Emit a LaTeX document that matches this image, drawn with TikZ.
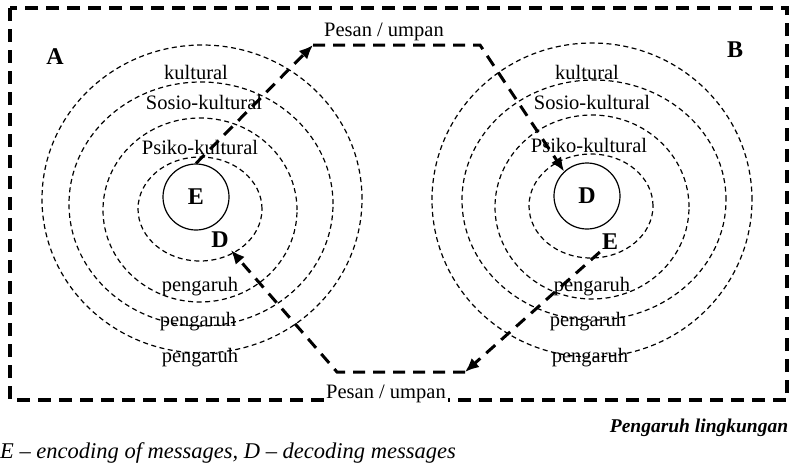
\documentclass[tikz,border=0pt]{standalone}
\usepackage{fontspec}
\setmainfont{Liberation Serif}
\usetikzlibrary{arrows.meta,positioning}

\begin{document}
\begin{tikzpicture}[
  x=1pt, y=-1pt,
  ring/.style={draw, dash pattern=on 5pt off 3.5pt, line width=1.2pt},
  boxline/.style={draw, line width=3.2pt, dash pattern=on 13pt off 8pt},
  msg/.style={-{Latex[length=14pt,width=12pt]}, line width=3pt, dash pattern=on 12pt off 8pt},
  lbl/.style={font=\fontsize{20.5}{24}\selectfont, inner sep=1pt},
  letter/.style={font=\fontsize{24}{26}\selectfont\bfseries, inner sep=2pt},
  core/.style={circle, draw, line width=1.2pt, minimum size=66pt, inner sep=0pt, font=\fontsize{24}{26}\selectfont\bfseries}
]
  \useasboundingbox (0,0) rectangle (792,464);
  \draw[boxline] (10,8) rectangle (787,400);

  % rings around A
  \draw[ring] (200,209) ellipse [x radius=62pt, y radius=52pt];
  \draw[ring] (200,210) ellipse [x radius=97pt, y radius=92pt];
  \draw[ring] (201,204) ellipse [x radius=132pt, y radius=122pt];
  \draw[ring] (202,199) ellipse [x radius=160pt, y radius=154pt];

  % rings around B
  \draw[ring] (591,206) ellipse [x radius=62pt, y radius=52pt];
  \draw[ring] (592,207) ellipse [x radius=97pt, y radius=92pt];
  \draw[ring] (594,200) ellipse [x radius=132pt, y radius=120pt];
  \draw[ring] (592,200) ellipse [x radius=160pt, y radius=157pt];

  \node[letter] (labA) at (55,57) {A};
  \node[letter] (labB) at (735,50) {B};

  \node[core] (encA) at (196,197) {E};
  \node[core] (decB) at (587,196) {D};
  \node[letter] (decA) at (220,240) {D};
  \node[letter] (encB) at (610,242) {E};

  \node[lbl] (kulA) at (196,72) {kultural};
  \node[lbl] (sosA) at (204,102) {Sosio-kultural};
  \node[lbl] (psiA) at (200,147) {Psiko-kultural};
  \node[lbl] (pgA1) at (200,287) {pengaruh};
  \node[lbl] (pgA2) at (198,322) {pengaruh};
  \node[lbl] (pgA3) at (200,358) {pengaruh};

  \node[lbl] (kulB) at (587,72) {kultural};
  \node[lbl] (sosB) at (592,102) {Sosio-kultural};
  \node[lbl] (psiB) at (589,145) {Psiko-kultural};
  \node[lbl] (pgB1) at (592,287) {pengaruh};
  \node[lbl] (pgB2) at (588,322) {pengaruh};
  \node[lbl] (pgB3) at (590,358) {pengaruh};

  \coordinate (up1) at (313,45);
  \coordinate (up2) at (480,45);
  \coordinate (dn1) at (465,372);
  \coordinate (dn2) at (337,372);

  \draw[msg] (encA.north) -- (up1);
  \draw[msg] (up1) -- (up2) -- (decB.133);
  \draw[msg] (encB.south west) -- (dn1);
  \draw[msg] (dn1) -- (dn2) -- (decA.south east);

  \node[lbl] (msgUp) at (384,32) {Pesan / umpan};
  \node[lbl, fill=white, inner sep=2pt] (msgDn) at (386,394) {Pesan / umpan};

  \node[font=\fontsize{19.5}{22}\selectfont\itshape\bfseries] (env) at (699,428) {Pengaruh lingkungan};
  \node[anchor=west, inner sep=0pt, font=\fontsize{22.5}{26}\selectfont\itshape] (note) at (0,453) {E -- encoding of messages,\ D -- decoding messages};
\end{tikzpicture}
\end{document}
